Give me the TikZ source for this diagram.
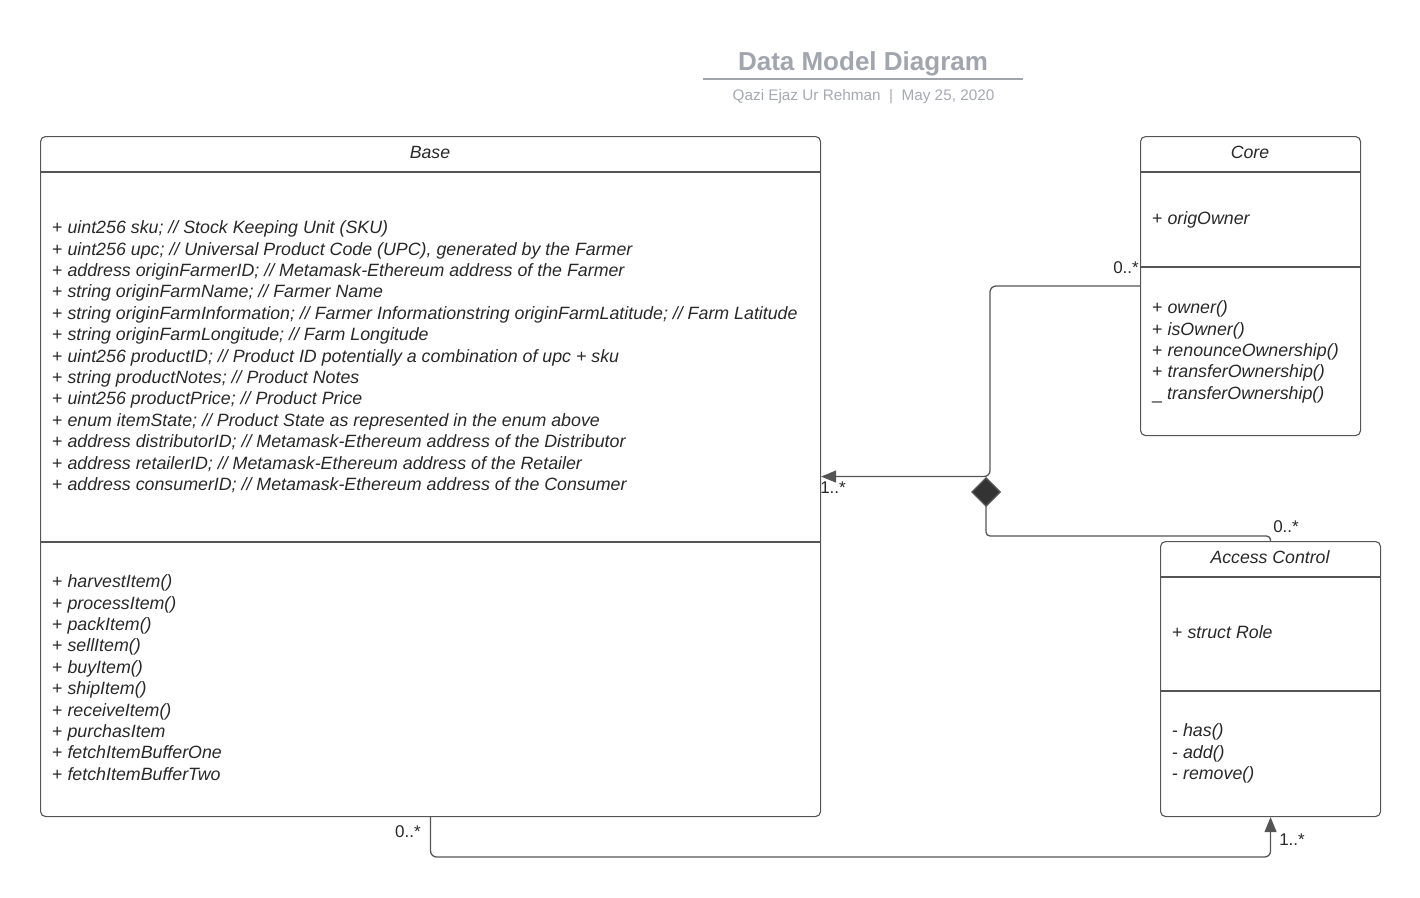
\documentclass[tikz,border=0pt]{standalone}
\usepackage{fontspec}
\setmainfont{Liberation Sans}
\usetikzlibrary{arrows.meta,positioning}
\definecolor{umlline}{RGB}{85,85,85}
\definecolor{umltext}{RGB}{40,40,40}
\definecolor{titlegray}{RGB}{160,165,174}
\definecolor{subgray}{RGB}{165,169,177}
\definecolor{diafill}{RGB}{51,51,51}
\newcommand{\pub}[1]{+ \textit{#1}}
\newcommand{\prv}[1]{- \textit{#1}}

\begin{document}
\begin{tikzpicture}[x=1pt,y=-1pt,
cls/.style={draw=umlline, line width=1.1pt, rounded corners=5pt, inner sep=0pt, anchor=north west},
ttl/.style={font=\fontsize{17.7}{21.3}\selectfont\itshape, text=umltext},
mbr/.style={anchor=north west, inner sep=0pt, align=left, font=\fontsize{17.8}{21.4}\selectfont, text=umltext},
sep/.style={draw=umlline, line width=1.1pt},
assoc/.style={draw=umlline, line width=1.3pt, rounded corners=6pt},
mult/.style={font=\fontsize{17}{20}\selectfont, text=umltext, inner sep=0pt}
]
\useasboundingbox (0,0) rectangle (1420,897);

% title block
\node[font=\fontsize{26}{30}\selectfont\bfseries, text=titlegray] (title) at (863,64) {Data Model Diagram};
\draw[titlegray, line width=1.5pt] (703,79) -- (1023,79);
\node[font=\fontsize{15.3}{18}\selectfont, text=subgray] (sub) at (863.5,96.5) {Qazi Ejaz Ur Rehman\ \ |\ \ May 25, 2020};

% classes
\node[cls, minimum width=780pt, minimum height=680pt] (base) at (40,136) {};
\node[cls, minimum width=220pt, minimum height=299pt] (core) at (1140,136) {};
\node[cls, minimum width=220pt, minimum height=275pt] (acc) at (1160,541) {};

\draw[sep] ([yshift=-36pt]base.north west) -- ([yshift=-36pt]base.north east);
\draw[sep] ([yshift=-406pt]base.north west) -- ([yshift=-406pt]base.north east);
\draw[sep] ([yshift=-36pt]core.north west) -- ([yshift=-36pt]core.north east);
\draw[sep] ([yshift=-131pt]core.north west) -- ([yshift=-131pt]core.north east);
\draw[sep] ([yshift=-36pt]acc.north west) -- ([yshift=-36pt]acc.north east);
\draw[sep] ([yshift=-150pt]acc.north west) -- ([yshift=-150pt]acc.north east);

\node[ttl] (basettl) at (430,152) {Base};
\node[ttl] (corettl) at (1250,152) {Core};
\node[ttl] (accttl) at (1270,557) {Access Control};

\node[mbr] (baseattr) at (52,220.5) {%
\pub{uint256 sku; // Stock Keeping Unit (SKU)}\\
\pub{uint256 upc; // Universal Product Code (UPC), generated by the Farmer}\\
\pub{address originFarmerID; // Metamask-Ethereum address of the Farmer}\\
\pub{string originFarmName; // Farmer Name}\\
\pub{string originFarmInformation; // Farmer Informationstring originFarmLatitude; // Farm Latitude}\\
\pub{string originFarmLongitude; // Farm Longitude}\\
\pub{uint256 productID; // Product ID potentially a combination of upc + sku}\\
\pub{string productNotes; // Product Notes}\\
\pub{uint256 productPrice; // Product Price}\\
\pub{enum itemState; // Product State as represented in the enum above}\\
\pub{address distributorID; // Metamask-Ethereum address of the Distributor}\\
\pub{address retailerID; // Metamask-Ethereum address of the Retailer}\\
\pub{address consumerID; // Metamask-Ethereum address of the Consumer}};

\node[mbr] (baseops) at (52,574.5) {%
\pub{harvestItem()}\\
\pub{processItem()}\\
\pub{packItem()}\\
\pub{sellItem()}\\
\pub{buyItem()}\\
\pub{shipItem()}\\
\pub{receiveItem()}\\
\pub{purchasItem}\\
\pub{fetchItemBufferOne}\\
\pub{fetchItemBufferTwo}};

\node[mbr] (coreattr) at (1152,211.5) {\pub{origOwner}};
\node[mbr] (coreops) at (1152,300.5) {%
\pub{owner()}\\
\pub{isOwner()}\\
\pub{renounceOwnership()}\\
\pub{transferOwnership()}\\
\_ \textit{transferOwnership()}};

\node[mbr] (accattr) at (1172,625.5) {\pub{struct Role}};
\node[mbr] (accops) at (1172,723.5) {%
\prv{has()}\\
\prv{add()}\\
\prv{remove()}};

% connectors
\coordinate (jx) at (990,476);
\coordinate (jy) at (986,536);
\coordinate (dia) at (986,477);
\coordinate (bot) at (0,857);

\draw[assoc, -{Triangle[length=15pt,width=12pt]}] (core.west) -- (core.west -| jx) -- (jx |- base.east) -- (base.east);
\draw[assoc, rounded corners=4pt, -{Diamond[length=30pt,width=30pt,fill=diafill]}] (acc.north) -- (acc.north |- jy) -- (jy) -- (dia);
\draw[assoc, -{Triangle[length=15pt,width=12pt]}] (base.south) -- (base.south |- bot) -- (acc.south |- bot) -- (acc.south);

\node[mult] (m1) at (1126,268) {0..*};
\node[mult] (m2) at (833,488) {1..*};
\node[mult] (m3) at (1286,527) {0..*};
\node[mult] (m4) at (408,832) {0..*};
\node[mult] (m5) at (1292,840) {1..*};

\end{tikzpicture}
\end{document}
